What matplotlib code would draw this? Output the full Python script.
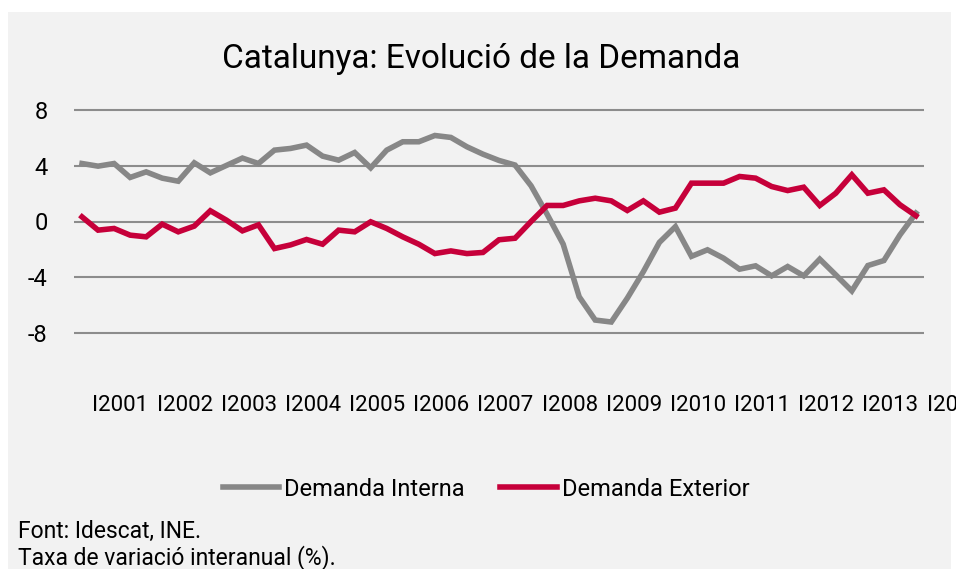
import matplotlib
matplotlib.use("Agg")
import matplotlib.pyplot as plt
from matplotlib.patches import Rectangle

plt.rcParams['font.family'] = ['Roboto', 'DejaVu Sans']

# trimestres 2000T1 .. 2013T1
quarters = [f"{y}T{q}" for y in range(2000, 2014) for q in range(1, 5)][:53]
years = list(range(2001, 2015))
year_labels = [f"I{y}" for y in years]

demanda_interna = [
    4.16, 3.97, 4.16, 3.16, 3.56, 3.11, 2.89, 4.21, 3.49, 4.02,
    4.55, 4.16, 5.12, 5.24, 5.48, 4.69, 4.40, 4.95, 3.85, 5.12,
    5.72, 5.72, 6.17, 6.03, 5.36, 4.83, 4.38, 4.05, 2.56, 0.52,
    -1.62, -5.40, -7.07, -7.21, -5.50, -3.60, -1.50, -0.37, -2.50, -2.03,
    -2.63, -3.42, -3.18, -3.90, -3.23, -3.90, -2.70, -3.83, -4.98, -3.16,
    -2.80, -0.96, 0.60,
]
demanda_exterior = [
    0.33, -0.62, -0.50, -0.98, -1.10, -0.19, -0.74, -0.33, 0.77, 0.10,
    -0.67, -0.24, -1.94, -1.68, -1.29, -1.63, -0.62, -0.74, -0.02, -0.50,
    -1.10, -1.63, -2.30, -2.11, -2.30, -2.22, -1.31, -1.20, 0.00, 1.15,
    1.15, 1.48, 1.67, 1.48, 0.79, 1.48, 0.67, 0.96, 2.75, 2.75,
    2.75, 3.23, 3.11, 2.51, 2.22, 2.46, 1.15, 2.03, 3.35, 2.03,
    2.27, 1.20, 0.41,
]

GRAY = '#878787'
RED = '#C6003A'

fig = plt.figure(figsize=(9.56, 5.69), dpi=100)
fig.patch.set_facecolor('white')
fig.patches.append(Rectangle((8 / 956, 0), 943 / 956, 1 - 12 / 569,
                             transform=fig.transFigure, facecolor='#F2F2F2',
                             edgecolor='none', zorder=-10))

ax = fig.add_axes([74 / 956, 1 - 337.2 / 569, 850 / 956, 231.4 / 569])
ax.set_facecolor('none')

x = list(range(len(quarters)))
ax.plot(x, demanda_interna, color=GRAY, lw=4, solid_joinstyle='miter',
        label='Demanda Interna', zorder=3)
ax.plot(x, demanda_exterior, color=RED, lw=4, solid_joinstyle='miter',
        label='Demanda Exterior', zorder=4)

ax.set_xlim(-0.5, len(quarters) - 0.5)
ax.set_ylim(-8.3, 8.3)
ax.set_yticks([-8, -4, 0, 4, 8])
ax.set_yticklabels(['-8', '-4', '0', '4', '8'])
ax.set_xticks([])
ax.tick_params(axis='y', length=0, pad=19, labelsize=17)
ax.grid(axis='y', color='#8C8C8C', lw=1.5)
ax.set_axisbelow(True)
for s in ax.spines.values():
    s.set_visible(False)

# etiquetes de l'eix X (primer trimestre de cada any)
for y, lab in zip(years, year_labels):
    pos = (y - 2000) * 4
    ax.text(pos + 0.15, -0.319, lab, transform=ax.get_xaxis_transform(),
            ha='right', va='baseline', fontsize=16, clip_on=False)

fig.text(0.503, 1 - 68 / 569, 'Catalunya: Evolució de la Demanda',
         ha='center', va='baseline', fontsize=24)

fig.legend(loc='center', bbox_to_anchor=(486 / 956, 1 - 489 / 569), ncol=2,
           frameon=False, fontsize=17, handlelength=2.4, handletextpad=0.2,
           columnspacing=1.5)

fig.text(18 / 956, 1 - 538 / 569, 'Font: Idescat, INE.', ha='left',
         va='baseline', fontsize=16.5)
fig.text(18 / 956, 1 - 564 / 569, 'Taxa de variació interanual (%).',
         ha='left', va='baseline', fontsize=16.5)

fig.savefig('out.png', dpi=100, facecolor=fig.get_facecolor())
